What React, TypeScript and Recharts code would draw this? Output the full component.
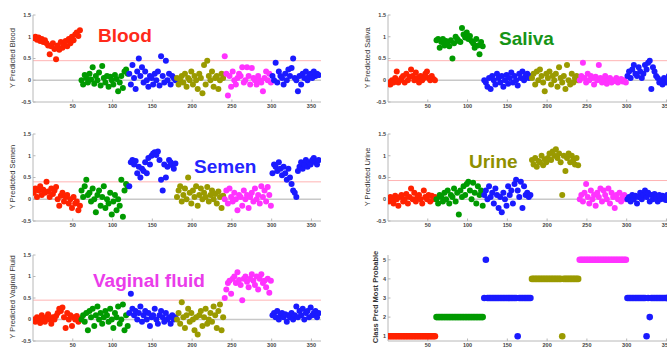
import React from 'react';
import { ScatterChart, Scatter, XAxis, YAxis, ReferenceLine } from 'recharts';

// ---------- data ----------
const segmentStarts = [0, 60, 120, 180, 240, 300];
const xTicks = [50, 100, 150, 200, 250, 300, 350];
const predTicks = [-0.5, 0, 0.5, 1, 1.5];
const classTicks = [1, 2, 3, 4, 5];

const RED = '#ff2200';
const GREEN = '#009a00';
const BLUE = '#1a1aff';
const OLIVE = '#9a9a00';
const MAGENTA = '#ff33ff';
const segmentColors = [RED, GREEN, BLUE, OLIVE, MAGENTA, BLUE];

// Y Predicted Blood
const bloodRed = [0.97,1.0,0.93,0.98,0.9,0.95,0.88,0.92,0.85,0.8,0.6,0.78,0.85,0.72,0.48,0.8,0.7,0.88,0.75,0.82,0.9,0.78,0.95,0.85,1.0,0.92,1.05,1.1,1.02,1.15];
const bloodGreen = [0.0,-0.1,0.12,0.05,-0.05,0.15,0.02,0.3,-0.08,0.1,0.0,0.18,-0.12,0.33,0.05,-0.05,0.1,-0.15,0.08,0.0,-0.1,0.12,0.03,-0.25,-0.05,0.1,-0.18,0.2,0.25,0.15];
const bloodBlue = [0.15,-0.1,0.35,0.05,-0.2,0.2,0.5,0.1,0.3,-0.05,0.2,0.0,-0.15,0.1,0.05,-0.1,0.15,0.0,0.2,-0.12,0.55,0.1,-0.05,0.45,0.0,0.15,-0.1,0.1,0.05,0.0];
const bloodOlive = [0.05,-0.1,0.0,0.1,-0.05,0.15,-0.15,0.05,0.0,0.2,-0.1,0.1,0.0,-0.2,0.15,0.05,-0.3,0.35,-0.1,0.45,0.1,0.0,0.2,-0.15,0.05,0.1,-0.2,0.0,0.15,0.05];
const bloodMagenta = [0.55,0.15,-0.35,0.1,-0.15,0.2,0.0,-0.1,0.05,0.15,0.1,0.3,-0.05,0.0,0.3,0.1,-0.1,0.28,0.05,0.0,-0.1,0.1,0.0,-0.05,-0.25,0.05,0.2,0.0,0.15,-0.05];
const bloodBlue2 = [0.1,0.0,0.4,-0.05,0.2,0.1,0.05,-0.1,0.15,0.0,0.25,0.1,0.28,0.5,0.05,0.0,-0.25,0.1,-0.1,0.15,0.05,0.2,0.0,0.1,0.15,0.05,0.2,0.1,0.15,0.12];

// Y Predicted Saliva
const salivaRed = [-0.05,-0.1,0.0,-0.05,0.05,0.2,-0.05,0.0,0.05,0.1,-0.05,0.15,0.0,0.08,0.25,0.1,0.0,0.18,0.05,-0.05,0.1,0.0,0.05,0.15,0.2,0.05,0.0,0.1,0.03,0.0];
const salivaGreen = [0.92,0.95,0.75,0.88,0.95,0.8,0.9,0.85,0.78,0.92,0.5,0.85,1.0,0.95,0.9,0.88,1.2,1.05,0.98,1.1,0.95,1.02,0.9,0.85,0.75,0.95,0.8,0.6,0.88,0.78];
const salivaBlue = [0.0,-0.05,-0.15,0.05,-0.2,0.1,0.0,-0.1,0.15,0.05,-0.05,0.1,-0.15,0.0,0.12,-0.08,0.05,0.18,-0.05,0.1,0.0,-0.12,0.15,0.05,0.2,0.0,0.1,0.15,0.05,0.1];
const salivaOlive = [0.05,0.15,-0.1,0.2,0.0,0.25,0.1,-0.05,-0.25,0.15,0.05,0.2,-0.1,0.1,0.0,0.15,-0.15,0.3,0.05,-0.05,0.1,-0.2,0.35,0.0,-0.1,0.15,-0.05,0.05,0.1,0.0];
const salivaMagenta = [0.0,0.1,0.4,0.05,-0.05,0.15,0.0,0.1,0.05,-0.1,0.08,0.0,0.35,0.05,-0.05,0.02,0.1,-0.08,0.0,0.05,-0.05,0.0,-0.02,0.05,-0.05,0.0,0.03,-0.03,0.0,-0.05];
const salivaBlue2 = [0.1,0.2,0.05,0.25,0.35,0.15,0.1,0.3,0.2,0.05,0.15,0.35,0.25,0.4,0.45,-0.2,0.3,0.2,0.1,0.05,-0.05,0.0,-0.1,0.05,-0.05,0.0,0.1,-0.05,0.05,0.0];

// Y Predicted Semen
const semenRed = [0.15,0.25,0.05,0.2,0.3,0.1,0.22,0.15,0.4,0.18,0.05,0.25,0.12,0.2,0.28,0.0,-0.15,0.08,0.15,-0.05,0.05,0.1,-0.1,0.0,-0.2,0.05,-0.1,-0.05,-0.25,-0.15];
const semenGreen = [0.2,0.05,0.3,0.45,0.1,0.15,-0.05,0.25,0.0,-0.3,0.1,0.2,-0.15,0.05,0.3,-0.2,0.0,-0.1,0.15,-0.35,-0.05,0.1,-0.25,0.0,-0.15,0.45,-0.4,0.2,0.35,0.3];
const semenBlue = [0.3,0.85,0.9,0.8,0.88,0.6,0.75,0.5,0.7,0.65,0.85,0.6,0.95,0.8,1.0,1.05,1.08,1.02,1.1,0.9,0.45,0.2,0.8,0.5,0.75,0.9,0.85,0.78,0.7,0.82];
const semenOlive = [0.05,0.2,0.3,-0.05,0.1,0.25,0.0,0.5,0.15,-0.1,0.2,0.05,0.3,-0.15,0.1,0.25,0.0,0.15,0.05,0.28,-0.05,0.1,0.2,0.0,0.12,-0.1,0.18,0.05,-0.2,0.08];
const semenMagenta = [0.0,0.2,-0.1,0.25,0.05,-0.05,0.15,0.0,-0.25,0.1,0.05,-0.15,0.2,0.0,0.1,-0.2,0.05,0.15,-0.05,0.25,0.0,0.1,-0.1,0.3,0.05,0.2,-0.05,0.28,0.1,-0.15];
const semenBlue2 = [0.6,0.8,0.75,0.65,0.85,0.7,0.55,0.75,0.6,0.45,0.7,0.5,0.35,0.2,0.15,0.05,0.65,0.75,0.85,0.7,0.8,0.9,0.75,0.85,0.8,0.9,0.95,0.85,0.8,0.9];

// Y Predicted Urine
const urineRed = [-0.05,0.05,0.0,-0.1,0.08,0.0,-0.15,0.05,0.1,-0.05,0.0,0.12,-0.1,0.05,0.25,0.0,0.15,-0.05,0.05,0.1,0.0,-0.1,0.2,0.05,0.0,0.1,-0.05,0.08,0.0,0.05];
const urineGreen = [0.0,-0.1,0.1,0.05,-0.05,0.15,0.0,0.2,-0.1,0.1,0.05,0.25,-0.05,0.15,-0.35,0.2,0.05,0.3,0.1,0.35,0.4,0.2,0.0,0.38,0.15,-0.1,0.3,0.1,0.2,-0.15];
const urineBlue = [0.1,0.2,0.0,0.3,0.05,0.15,-0.1,0.25,0.1,-0.2,0.05,-0.3,0.15,0.0,-0.15,0.3,0.1,0.2,-0.1,0.35,0.45,0.2,0.05,0.4,-0.2,0.3,0.1,0.15,0.05,0.1];
const urineOlive = [0.9,0.8,0.95,0.75,0.88,0.85,1.0,0.78,0.92,0.85,0.95,1.05,0.9,1.1,1.0,1.15,0.95,1.05,0.85,0.1,1.0,0.65,0.95,1.05,0.85,1.0,0.9,0.8,0.95,0.78];
const urineMagenta = [0.0,0.1,-0.05,0.15,0.35,0.05,-0.1,0.2,0.0,0.1,-0.15,0.15,0.05,0.25,-0.05,0.2,0.1,0.0,0.25,-0.1,0.15,0.05,-0.2,0.1,0.0,0.15,-0.05,0.05,0.1,0.0];
const urineBlue2 = [0.0,0.05,-0.05,0.1,0.0,0.08,-0.1,0.05,0.15,0.0,0.1,0.2,0.05,0.15,-0.05,0.1,0.0,0.12,0.05,-0.05,0.1,0.0,0.08,0.05,-0.02,0.1,0.0,0.05,0.1,0.0];

// Y Predicted Vaginal fluid
const vagRed = [0.0,-0.05,0.05,0.0,-0.08,0.1,0.02,-0.05,0.05,0.12,0.0,-0.1,0.05,0.0,0.08,0.15,0.25,0.2,0.28,0.05,-0.2,0.15,0.0,0.1,-0.15,0.05,0.0,0.08,-0.05,0.02];
const vagGreen = [0.0,0.1,-0.05,0.15,-0.25,0.2,0.05,0.25,-0.15,0.1,0.3,0.0,0.15,-0.1,0.05,0.2,0.1,-0.05,0.25,0.0,-0.2,0.15,0.05,0.3,-0.1,0.0,0.35,-0.25,0.1,-0.15];
const vagBlue = [0.15,0.6,0.25,0.1,0.2,0.0,0.15,0.3,-0.05,0.1,0.2,0.0,0.15,-0.15,0.05,0.1,0.25,0.0,-0.1,0.1,0.2,0.05,-0.05,0.15,0.0,0.05,-0.1,0.1,0.0,0.05];
const vagOlive = [0.0,0.15,-0.1,0.4,0.05,-0.2,0.1,0.25,-0.05,0.15,0.0,-0.25,0.05,-0.35,0.1,0.2,-0.15,0.05,0.25,-0.1,0.0,0.15,-0.05,0.3,0.1,-0.2,0.2,0.35,-0.25,0.05];
const vagMagenta = [0.5,0.7,0.85,0.9,0.6,0.95,1.0,0.85,1.1,0.92,0.8,0.45,0.95,1.0,0.88,0.75,0.95,1.05,0.9,0.8,1.0,0.7,0.95,1.05,0.85,0.9,0.75,0.95,0.62,0.9];
const vagBlue2 = [0.1,0.15,0.05,0.2,0.0,0.1,0.15,0.05,0.12,-0.05,0.1,0.05,0.15,0.0,0.1,0.3,0.05,0.2,0.1,0.25,0.0,0.15,0.2,0.05,0.28,0.1,0.15,0.2,0.05,0.15];

// Class Pred Most Probable
const classRed = [1,1,1,1,1,1,1,1,1,1,1,1,1,1,1,1,1,1,1,1,1,1,1,1,1,1,1,1,1,1];
const classGreen = [2,2,2,2,2,2,2,2,2,2,2,2,2,2,2,2,2,2,2,2,2,2,2,2,2,2,2,2,2,2];
const classBlue = [3,5,3,3,3,3,3,3,3,3,3,3,3,3,3,3,3,3,3,3,3,1,3,3,3,3,3,3,3,3];
const classOlive = [4,4,4,4,4,4,4,4,4,4,4,4,4,4,4,4,4,4,4,1,4,4,4,4,4,4,4,4,4,4];
const classMagenta = [5,5,5,5,5,5,5,5,5,5,5,5,5,5,5,5,5,5,5,5,5,5,5,5,5,5,5,5,5,5];
const classBlue2 = [3,3,3,3,3,3,3,3,3,3,3,3,1,3,2,3,3,3,3,3,3,3,3,3,3,3,3,3,3,3];

// ---------- layout helpers ----------
const FONT = 'Liberation Sans, Arial, sans-serif';
const AXIS_GRAY = '#b8b8b8';
const PLOT_W = 288;
const AXIS_W = 40;
const TOP_PAD = 5;

const toPoints = (values: number[], start: number) =>
  values.map((y, i) => ({ x: start + 1 + 2 * i, y }));

type PanelProps = {
  left: number;
  top: number;
  h: number;
  segs: number[][];
  yDomain: [number, number];
  yTicks: number[];
  threshold?: number;
  zeroLine?: boolean;
  r: number;
};

const tickStyle = { fontSize: 5.5, fontWeight: 'bold' as const, fill: '#444', fontFamily: FONT };

function Panel({ left, top, h, segs, yDomain, yTicks, threshold, zeroLine, r }: PanelProps) {
  return (
    <div style={{ position: 'absolute', left: left - AXIS_W, top: top - TOP_PAD }}>
      <ScatterChart
        width={AXIS_W + PLOT_W + 1}
        height={TOP_PAD + h + 14}
        margin={{ top: TOP_PAD, right: 1, bottom: 0, left: 0 }}
      >
        <XAxis
          type="number"
          dataKey="x"
          domain={[0, 362]}
          ticks={xTicks}
          allowDataOverflow
          height={14}
          tickSize={-2.5}
          tickMargin={4.5}
          stroke={AXIS_GRAY}
          tick={tickStyle}
          interval={0}
        />
        <XAxis
          xAxisId="top"
          orientation="top"
          type="number"
          dataKey="x"
          domain={[0, 362]}
          ticks={xTicks}
          allowDataOverflow
          height={0}
          tickSize={-2.5}
          stroke={AXIS_GRAY}
          tick={false}
        />
        <YAxis
          type="number"
          dataKey="y"
          domain={yDomain}
          ticks={yTicks}
          allowDataOverflow
          width={AXIS_W}
          tickSize={-2.5}
          tickMargin={4.5}
          stroke={AXIS_GRAY}
          tick={tickStyle}
          interval={0}
        />
        <YAxis
          yAxisId="right"
          orientation="right"
          type="number"
          dataKey="y"
          domain={yDomain}
          ticks={yTicks}
          allowDataOverflow
          width={0}
          tickSize={-2.5}
          stroke={AXIS_GRAY}
          tick={false}
        />
        {zeroLine && <ReferenceLine y={0} stroke="#c8c8c8" strokeWidth={1.6} />}
        {threshold !== undefined && <ReferenceLine y={threshold} stroke="#ffb3b3" strokeWidth={1} />}
        {segs.map((vals, k) => (
          <Scatter
            key={k}
            data={toPoints(vals, segmentStarts[k])}
            fill={segmentColors[k]}
            isAnimationActive={false}
            shape={(p: any) => <circle cx={p.cx} cy={p.cy} r={r} fill={segmentColors[k]} />}
          />
        ))}
      </ScatterChart>
    </div>
  );
}

export default function App() {
  return (
    <div
      style={{
        position: 'absolute',
        left: 0,
        top: 0,
        width: 667,
        height: 348,
        overflow: 'hidden',
        background: '#fff',
      }}
    >
      <Panel left={33} top={15} h={87} r={3} zeroLine threshold={0.45} yDomain={[-0.5, 1.5]} yTicks={predTicks}
        segs={[bloodRed, bloodGreen, bloodBlue, bloodOlive, bloodMagenta, bloodBlue2]} />
      <Panel left={388} top={15} h={87} r={3} zeroLine threshold={0.45} yDomain={[-0.5, 1.5]} yTicks={predTicks}
        segs={[salivaRed, salivaGreen, salivaBlue, salivaOlive, salivaMagenta, salivaBlue2]} />
      <Panel left={33} top={134} h={87} r={3} zeroLine threshold={0.4} yDomain={[-0.5, 1.5]} yTicks={predTicks}
        segs={[semenRed, semenGreen, semenBlue, semenOlive, semenMagenta, semenBlue2]} />
      <Panel left={388} top={134} h={87} r={3} zeroLine threshold={0.43} yDomain={[-0.5, 1.5]} yTicks={predTicks}
        segs={[urineRed, urineGreen, urineBlue, urineOlive, urineMagenta, urineBlue2]} />
      <Panel left={33} top={254.5} h={86} r={3} zeroLine threshold={0.45} yDomain={[-0.5, 1.5]} yTicks={predTicks}
        segs={[vagRed, vagGreen, vagBlue, vagOlive, vagMagenta, vagBlue2]} />
      <Panel left={388} top={254.5} h={86} r={3.3} yDomain={[0.75, 5.25]} yTicks={classTicks}
        segs={[classRed, classGreen, classBlue, classOlive, classMagenta, classBlue2]} />

      <svg
        width={667}
        height={348}
        style={{ position: 'absolute', left: 0, top: 0, pointerEvents: 'none' }}
      >
        <g fontFamily={FONT} fontSize={7.5} fill="#333" textAnchor="middle">
          <text transform="translate(12,58) rotate(-90)" dominantBaseline="central">Y Predicted Blood</text>
          <text transform="translate(367,58) rotate(-90)" dominantBaseline="central">Y Predicted Saliva</text>
          <text transform="translate(12,177) rotate(-90)" dominantBaseline="central">Y Predicted Semen</text>
          <text transform="translate(367,177) rotate(-90)" dominantBaseline="central">Y Predicted Urine</text>
          <text transform="translate(12,297) rotate(-90)" dominantBaseline="central">Y Predicted Vaginal Fluid</text>
          <text transform="translate(375,297) rotate(-90)" dominantBaseline="central" fontWeight="bold">Class Pred Most Probable</text>
        </g>
        <g fontFamily={FONT} fontSize={19} fontWeight="bold">
          <text x={98} y={41.7} fill="#ff2a1a">Blood</text>
          <text x={499} y={45} fill="#169416">Saliva</text>
          <text x={194} y={173.3} fill="#2424ff">Semen</text>
          <text x={469} y={168.3} fill="#8f8f00">Urine</text>
          <text x={93} y={287} fill="#ea3cea">Vaginal fluid</text>
        </g>
      </svg>
    </div>
  );
}
